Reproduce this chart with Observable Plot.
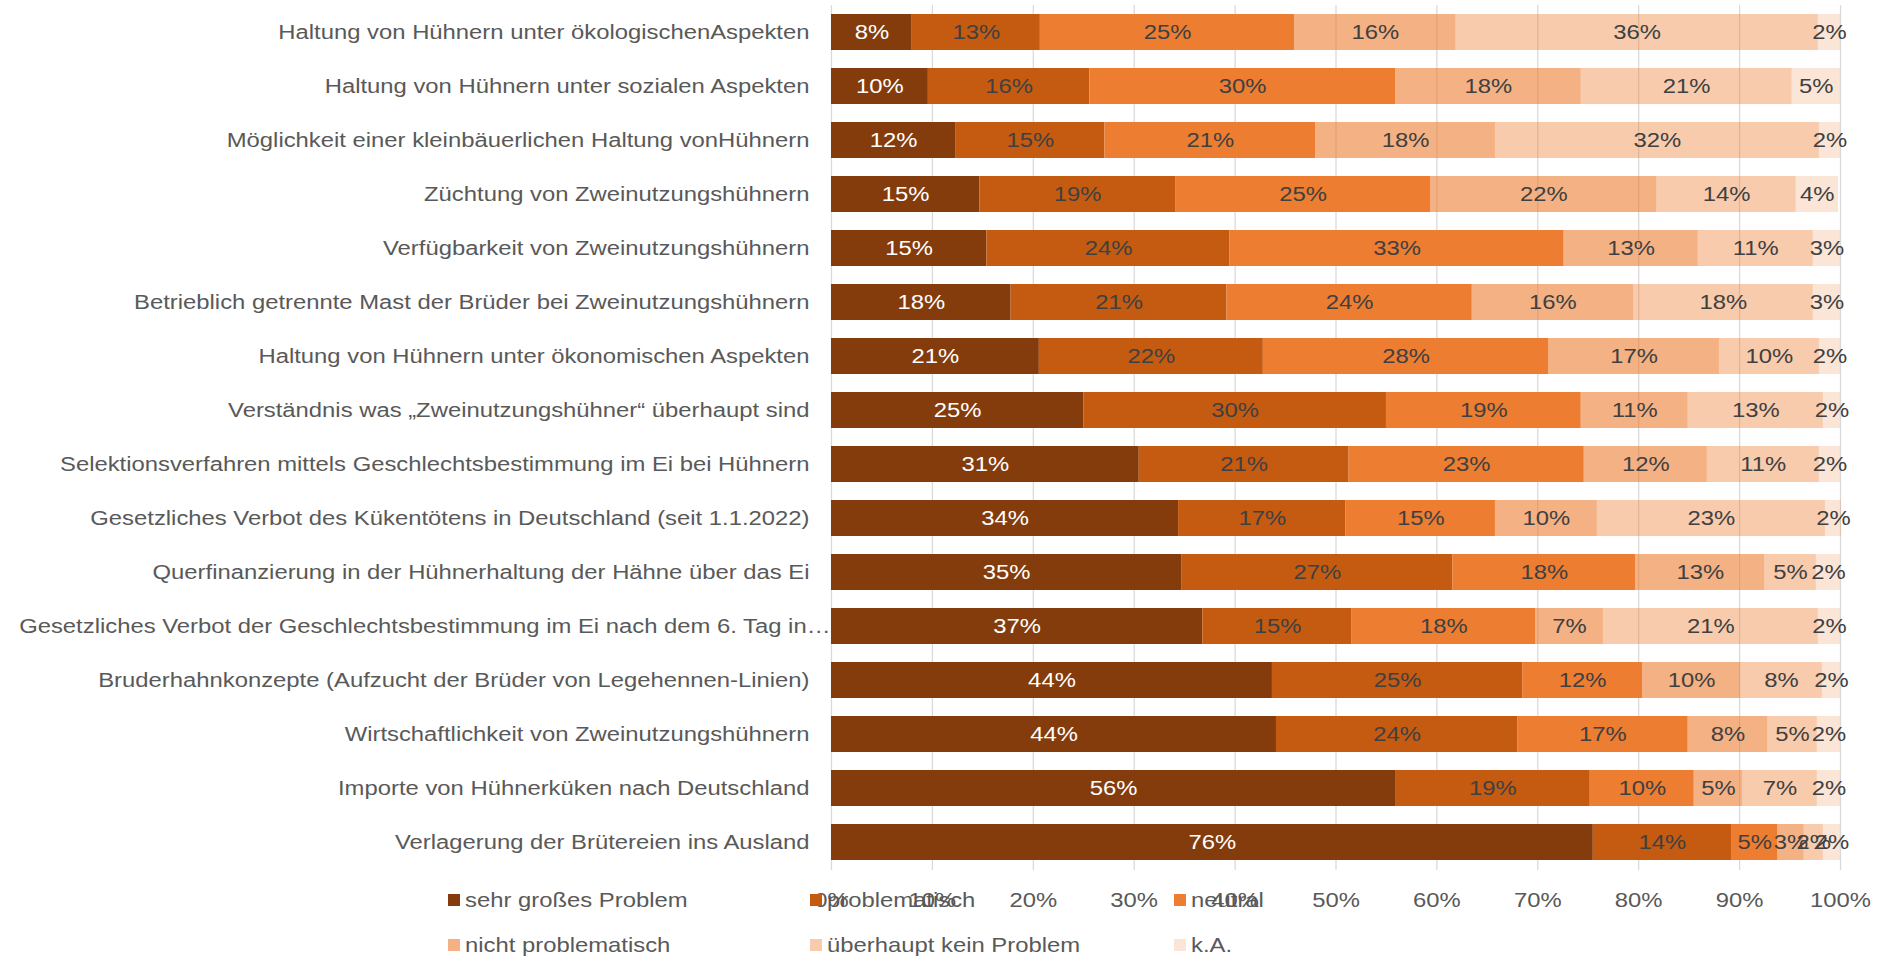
<!DOCTYPE html>
<html>
<head>
<meta charset="utf-8">
<script src="https://cdn.jsdelivr.net/npm/d3@7"></script>
<script src="https://cdn.jsdelivr.net/npm/@observablehq/plot@0.6"></script>
<style>
  html, body { margin: 0; padding: 0; background: #fff; }
  #wrap { position: relative; width: 1886px; height: 958px; overflow: hidden; font-family: "Liberation Sans", Arial, sans-serif; }
  #legend { position: absolute; left: 0; top: 0; width: 1886px; height: 958px; pointer-events: none; }
  .item { position: absolute; height: 24px; display: flex; align-items: center; font-size: 21px; color: #595959; white-space: nowrap; }
  .sw { width: 12px; height: 12px; margin-right: 5px; flex: none; }
  .lt { display: inline-block; transform: scaleX(1.135); transform-origin: left center; }
</style>
</head>
<body>
<div id="wrap"></div>
<script>
// ---------- data ----------
const categories = [
  "Haltung von Hühnern unter ökologischenAspekten",
  "Haltung von Hühnern unter sozialen Aspekten",
  "Möglichkeit einer kleinbäuerlichen Haltung vonHühnern",
  "Züchtung von Zweinutzungshühnern",
  "Verfügbarkeit von Zweinutzungshühnern",
  "Betrieblich getrennte Mast der Brüder bei Zweinutzungshühnern",
  "Haltung von Hühnern unter ökonomischen Aspekten",
  "Verständnis was „Zweinutzungshühner“ überhaupt sind",
  "Selektionsverfahren mittels Geschlechtsbestimmung im Ei bei Hühnern",
  "Gesetzliches Verbot des Kükentötens in Deutschland (seit 1.1.2022)",
  "Querfinanzierung in der Hühnerhaltung der Hähne über das Ei",
  "Gesetzliches Verbot der Geschlechtsbestimmung im Ei nach dem 6. Tag in…",
  "Bruderhahnkonzepte (Aufzucht der Brüder von Legehennen-Linien)",
  "Wirtschaftlichkeit von Zweinutzungshühnern",
  "Importe von Hühnerküken nach Deutschland",
  "Verlagerung der Brütereien ins Ausland"
];

const seriesNames = ["sehr großes Problem", "problematisch", "neutral", "nicht problematisch", "überhaupt kein Problem", "k.A."];

const sehrGrosses   = [8.0, 9.6, 12.3, 14.7, 15.4, 17.8, 20.6, 25.0, 30.5, 34.4, 34.7, 36.8, 43.7, 44.1, 55.9, 75.5];
const problematisch = [12.7, 16.0, 14.8, 19.4, 24.1, 21.4, 22.2, 30.0, 20.8, 16.6, 26.9, 14.8, 24.8, 23.9, 19.3, 13.7];
const neutral       = [25.2, 30.3, 20.9, 25.3, 33.1, 24.3, 28.3, 19.3, 23.3, 14.8, 18.1, 18.2, 11.9, 16.9, 10.3, 4.6];
const nichtProbl    = [16.0, 18.4, 17.8, 22.4, 13.3, 16.0, 16.9, 10.6, 12.2, 10.1, 12.8, 6.7, 9.7, 7.9, 4.8, 2.6];
const keinProblem   = [35.9, 20.9, 32.1, 13.8, 11.4, 17.8, 9.9, 13.4, 11.1, 22.6, 5.1, 21.3, 8.1, 4.9, 7.4, 1.9];
const kA            = [2.2, 4.8, 2.1, 4.2, 2.7, 2.7, 2.1, 1.7, 2.1, 1.6, 2.4, 2.2, 1.8, 2.3, 2.3, 1.7];

const xTicks = [0, 10, 20, 30, 40, 50, 60, 70, 80, 90, 100];

// ---------- styling ----------
const baseColors = ["#843C0C", "#C55A11", "#ED7D31", "#ED7D31", "#ED7D31", "#ED7D31"];
const baseOpacity = [1, 1, 1, 0.6, 0.4, 0.2];
const swatchColors = ["#843C0C", "#C55A11", "#ED7D31", "#F4B183", "#F8CBAD", "#FBE5D6"];
const FONT = '"Liberation Sans", Arial, sans-serif';
const STRETCH = 1.135;

const seriesValues = [sehrGrosses, problematisch, neutral, nichtProbl, keinProblem, kA];
const rows = [];
categories.forEach((c, i) => {
  seriesNames.forEach((s, j) => {
    rows.push({category: c, series: s, si: j, value: seriesValues[j][i]});
  });
});

const chart = Plot.plot({
  width: 1886,
  height: 958,
  marginLeft: 831,
  marginRight: 46,
  marginTop: 5,
  marginBottom: 88,
  style: {fontFamily: FONT, fontSize: "21px", color: "#595959", background: "#fff", overflow: "visible"},
  x: {domain: [0, 100], ticks: xTicks, tickFormat: d => d + "%", label: null, tickSize: 0, tickPadding: 22},
  y: {domain: categories, paddingInner: 0.33, paddingOuter: 0.165, label: null, tickSize: 0, tickPadding: 22},
  color: {type: "identity"},
  opacity: {type: "identity"},
  marks: [
    Plot.gridX(xTicks, {stroke: "#d9d9d9", strokeOpacity: 1, strokeWidth: 1.25}),
    Plot.barX(rows, Plot.stackX({
      x: "value", y: "category", z: "series", order: seriesNames,
      fill: d => baseColors[d.si], fillOpacity: d => baseOpacity[d.si]
    })),
    Plot.textX(rows, Plot.stackX({
      x: "value", y: "category", z: "series", order: seriesNames,
      text: d => Math.round(d.value) + "%",
      fill: d => d.si === 0 ? "#ffffff" : "#404040"
    }))
  ]
});

// horizontal widening of the lettering, as in the reference;
// the truncated category label runs up to the plot edge, as in the reference
chart.querySelectorAll("text").forEach(t => {
  const x = parseFloat(t.getAttribute("x")) || 0;
  const tr = t.getAttribute("transform") || "";
  const shift = t.textContent.endsWith("…") ? " translate(21,0)" : "";
  t.setAttribute("transform", `${tr}${shift} translate(${x},0) scale(${STRETCH},1) translate(${-x},0)`.trim());
});

const wrap = document.getElementById("wrap");
wrap.appendChild(chart);

// legend (3 columns x 2 rows), drawn over the bottom of the chart as in the reference
const legend = document.createElement("div");
legend.id = "legend";
const colX = [448, 810, 1174];
const rowY = [900, 945];
seriesNames.forEach((s, j) => {
  const item = document.createElement("div");
  item.className = "item";
  item.style.left = colX[j % 3] + "px";
  item.style.top = (rowY[Math.floor(j / 3)] - 12) + "px";
  const sw = document.createElement("span");
  sw.className = "sw";
  sw.style.background = swatchColors[j];
  const lt = document.createElement("span");
  lt.className = "lt";
  lt.textContent = s;
  item.appendChild(sw);
  item.appendChild(lt);
  legend.appendChild(item);
});
wrap.appendChild(legend);
</script>
</body>
</html>
